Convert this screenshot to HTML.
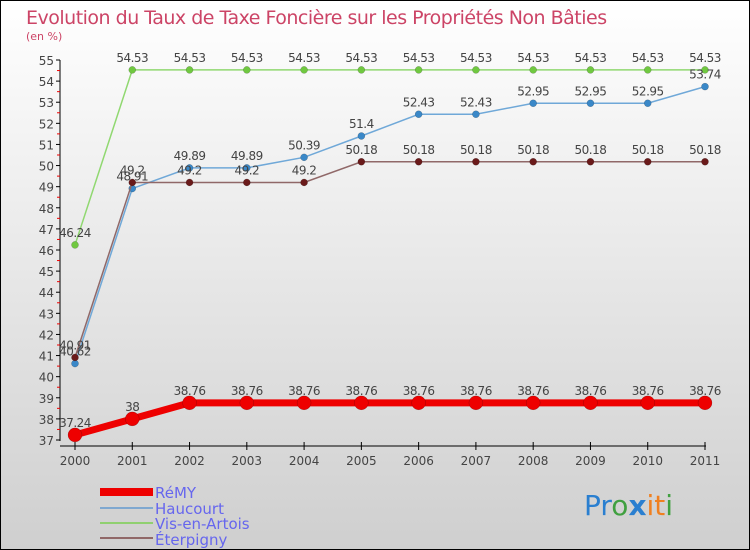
<!DOCTYPE html>
<html><head><meta charset="utf-8"><style>
body{margin:0;width:750px;height:550px;overflow:hidden;font-family:"DejaVu Sans","Liberation Sans",sans-serif}
#wrap{position:absolute;left:0;top:0;width:748px;height:548px;border:1px solid #000;background:linear-gradient(#ffffff,#cfcfcf)}
</style></head><body>
<div id="wrap">
<svg id="chart" width="750" height="550" style="position:absolute;left:-1px;top:-1px">
<text x="26" y="24" font-size="19" fill="#cc4466" style="font-family:'DejaVu Sans',sans-serif;letter-spacing:-0.5px">Evolution du Taux de Taxe Foncière sur les Propriétés Non Bâties</text>
<text x="26" y="40" font-size="11" fill="#cc4466">(en %)</text>
<g id="axes"></g><g id="series"></g>
<g font-size="15" fill="#6666ee">
<rect x="100" y="488" width="53" height="8" fill="#ee0000"/>
<text x="155" y="498">RéMY</text>
<rect x="100" y="507" width="53" height="2" fill="#7fa8d0"/>
<text x="155" y="514">Haucourt</text>
<rect x="100" y="522" width="53" height="2" fill="#90d070"/>
<text x="155" y="529">Vis-en-Artois</text>
<rect x="100" y="537" width="53" height="2" fill="#906868"/>
<text x="155" y="545">Éterpigny</text>
</g>
<g font-size="28" font-family="'DejaVu Sans',sans-serif">
<text x="584" y="515"><tspan fill="#2a7fd0">Pr</tspan><tspan fill="#40a040">o</tspan><tspan fill="#2a7fd0" font-weight="bold">x</tspan><tspan fill="#f08020">it</tspan><tspan fill="#40a040">i</tspan></text>
</g>
</svg>
</div>
<script>
const years=[2000,2001,2002,2003,2004,2005,2006,2007,2008,2009,2010,2011];
const remy=[37.24,38,38.76,38.76,38.76,38.76,38.76,38.76,38.76,38.76,38.76,38.76];
const haucourt=[40.62,48.91,49.89,49.89,50.39,51.4,52.43,52.43,52.95,52.95,52.95,53.74];
const visEnArtois=[46.24,54.53,54.53,54.53,54.53,54.53,54.53,54.53,54.53,54.53,54.53,54.53];
const eterpigny=[40.91,49.2,49.2,49.2,49.2,50.18,50.18,50.18,50.18,50.18,50.18,50.18];
const yTicks=[37,38,39,40,41,42,43,44,45,46,47,48,49,50,51,52,53,54,55];
const NS="http://www.w3.org/2000/svg";
const x=i=>75+i*(630/11);
const y=v=>440-(v-37)*(380/18);
function mk(tag,attrs,parent,name){const e=document.createElementNS(NS,tag);for(const k in attrs)e.setAttribute(k,attrs[k]);


parent.appendChild(e);return e;}
const ax=document.getElementById('axes');
mk('line',{x1:60,y1:60,x2:60,y2:441,stroke:'#000'},ax,'y-axis');
mk('line',{x1:60,y1:446,x2:706,y2:446,stroke:'#000'},ax,'x-axis');
yTicks.forEach(v=>{
 mk('line',{x1:56,y1:y(v),x2:60,y2:y(v),stroke:'#000'},ax,'y-tick');
 if(v<55)mk('line',{x1:57,y1:y(v+0.5),x2:60,y2:y(v+0.5),stroke:'#e00'},ax,'y-minor-tick');
 const t=mk('text',{x:54,y:y(v)+5,'font-size':12,fill:'#444','text-anchor':'end'},ax,'y-tick-label');t.textContent=v;
});
years.forEach((yr,i)=>{
 mk('line',{x1:x(i),y1:442,x2:x(i),y2:450,stroke:'#000'},ax,'x-tick');
 const t=mk('text',{x:x(i),y:465,'font-size':12,fill:'#444','text-anchor':'middle'},ax,'x-tick-label');t.textContent=yr;
});
const sg=document.getElementById('series');
function draw(vals,color,w,r,dot,name){
 const g=mk('g',{},sg,name+'-series');
 mk('polyline',{points:vals.map((v,i)=>x(i)+','+y(v)).join(' '),fill:'none',stroke:color,'stroke-width':w},g,name+'-line');
 vals.forEach((v,i)=>{
  mk('circle',{cx:x(i),cy:y(v),r:r,fill:dot,stroke:'rgba(0,0,0,0.3)','stroke-width':0.5},g,name+'-point');
  const t=mk('text',{x:x(i),y:y(v)-8,'font-size':12,fill:'#444','text-anchor':'middle','letter-spacing':'-0.5'},g,name+'-value-label');t.textContent=v;
 });
}
draw(visEnArtois,'#90d870',1.5,3.5,'#70c840','vis-en-artois');
draw(haucourt,'#6fa8d8',1.5,3.5,'#3a88c8','haucourt');
draw(eterpigny,'#906868',1.5,3.5,'#6a1a1a','eterpigny');
draw(remy,'#ee0000',7,7,'#ee0000','remy');
</script>
</body></html>
